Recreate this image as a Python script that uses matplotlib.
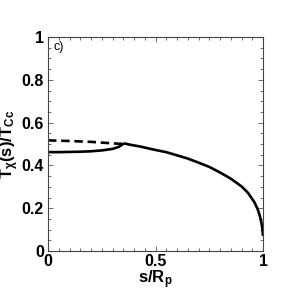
import matplotlib
matplotlib.use("Agg")
import matplotlib.pyplot as plt
from matplotlib.ticker import MultipleLocator

plt.rcParams['font.family'] = ['Liberation Sans', 'DejaVu Sans']
plt.rcParams['mathtext.fontset'] = 'custom'
plt.rcParams['mathtext.rm'] = 'Liberation Sans:bold'
plt.rcParams['mathtext.it'] = 'Liberation Sans:bold'
plt.rcParams['mathtext.bf'] = 'Liberation Sans:bold'

# solid branch (lower, rising) up to the junction
s_low = [0.0, 0.05, 0.10, 0.15, 0.20, 0.25, 0.30, 0.33, 0.353]
t_low = [0.462, 0.462, 0.463, 0.464, 0.466, 0.470, 0.477, 0.487, 0.503]

# solid decreasing branch after the junction
s_high = [0.353, 0.38, 0.43, 0.50, 0.55, 0.60, 0.65, 0.70, 0.75, 0.80,
          0.85, 0.90, 0.93, 0.96, 0.975, 0.985, 0.992, 0.997, 1.0]
t_high = [0.503, 0.497, 0.488, 0.472, 0.462, 0.447, 0.432, 0.413, 0.393, 0.367,
          0.338, 0.302, 0.272, 0.228, 0.196, 0.165, 0.135, 0.105, 0.07]

# dashed branch
s_dash = [0.0, 0.10, 0.20, 0.30, 0.353]
t_dash = [0.517, 0.514, 0.510, 0.503, 0.500]

fig = plt.figure(figsize=(2.91, 3.0), dpi=100)
ax = fig.add_axes([48/291, 1-251/300, 215/291, 214/300])

ax.plot(s_low, t_low, color='black', lw=1.9, solid_capstyle='butt')
ax.plot(s_high, t_high, color='black', lw=1.9, solid_capstyle='butt')
ax.plot(s_dash, t_dash, color='black', lw=1.9, ls=(0, (3.2, 1.8)))

ax.set_xlim(0, 1)
ax.set_ylim(0, 1)
ax.set_xticks([0, 0.5, 1])
ax.set_xticklabels(['0', '0.5', '1'])
ax.set_yticks([0, 0.2, 0.4, 0.6, 0.8, 1])
ax.set_yticklabels(['0', '0.2', '0.4', '0.6', '0.8', '1'])
ax.xaxis.set_minor_locator(MultipleLocator(0.05))
ax.yaxis.set_minor_locator(MultipleLocator(0.05))
ax.tick_params(which='both', direction='in', top=True, right=True,
               color='#555555', width=0.6)
ax.tick_params(which='major', length=3.5, labelsize=11.5)
ax.tick_params(axis='x', which='major', pad=2)
ax.tick_params(axis='y', which='major', pad=3)
ax.tick_params(which='minor', length=2)
for lab in ax.get_xticklabels() + ax.get_yticklabels():
    lab.set_fontweight('bold')
for sp in ax.spines.values():
    sp.set_color('#444444')
    sp.set_linewidth(0.8)

ax.set_xlabel(r'$\mathrm{s/R_p}$', fontsize=12, labelpad=0)
ax.set_ylabel(r'$\mathrm{T_{\chi}(s)/T_{Cc}}$', fontsize=12, labelpad=0)
ax.text(0.025, 0.98, 'c)', transform=ax.transAxes, fontsize=9, va='top', ha='left')

fig.savefig('out.png', dpi=100)
